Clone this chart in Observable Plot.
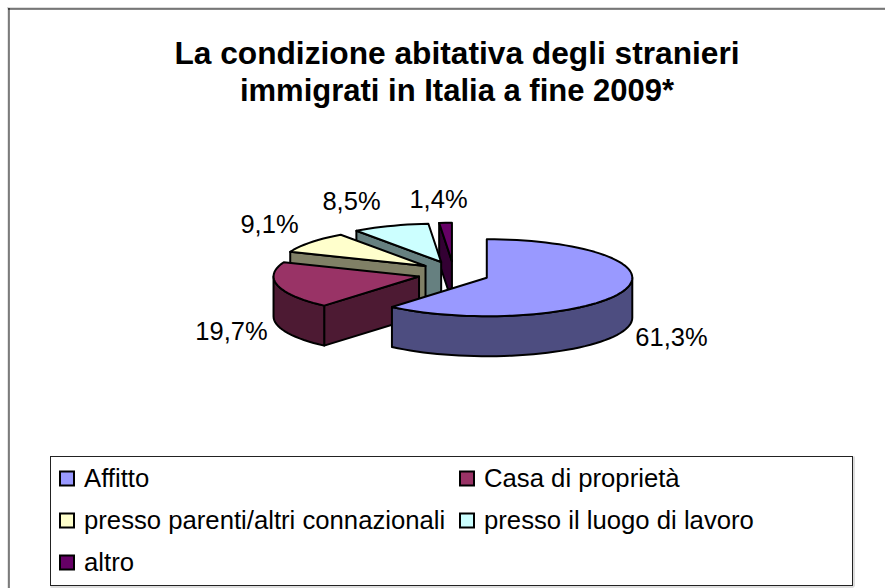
<!DOCTYPE html>
<html>
<head>
<meta charset="utf-8">
<script src="https://cdn.jsdelivr.net/npm/d3@7"></script>
<script src="https://cdn.jsdelivr.net/npm/@observablehq/plot@0.6"></script>
<style>
  html, body { margin: 0; padding: 0; background: #fff; }
  svg { display: block; }
</style>
</head>
<body>
<script>
// Chart data
const titleLines = ["La condizione abitativa degli stranieri", "immigrati in Italia a fine 2009*"];
const categories = ["Affitto", "Casa di proprietà", "presso parenti/altri connazionali", "presso il luogo di lavoro", "altro"];
const shares = [61.3, 19.7, 9.1, 8.5, 1.4];
const topColours = ["#9999ff", "#993366", "#ffffcc", "#ccffff", "#660066"];
const sideColours = ["#4d4d80", "#4d1a33", "#808066", "#668080", "#330033"];

// Layout of the tilted, exploded pie
const pie = {cx: 453, cy: 273, rx: 145.5, ry: 38.5, depth: 40, explodeX: 35.5, explodeY: 12.2};
const labelSpots = [[671, 337], [231, 331], [269, 224], [351, 201], [438, 199]];
const legendSpots = [[60, 478], [460, 478], [60, 520], [460, 520], [60, 562]];
const titleSizes = [31.7, 31];
const rad = (deg) => deg * Math.PI / 180;

const total = d3.sum(shares);
let running = 0;
const slices = shares.map((share, i) => {
  const start = running / total * 360;
  running += share;
  const end = running / total * 360;
  const mid = rad((start + end) / 2);
  return {
    i, start, end,
    ox: pie.cx + pie.explodeX * Math.sin(mid),
    oy: pie.cy - pie.explodeY * Math.cos(mid)
  };
});

const rimPoint = (s, deg, drop = 0) => ({
  x: s.ox + pie.rx * Math.sin(rad(deg)),
  y: s.oy - pie.ry * Math.cos(rad(deg)) + drop
});
const arc = (a, b) => {
  const n = Math.max(2, Math.ceil((b - a) / 3));
  return d3.range(n + 1).map((k) => a + (b - a) * k / n);
};

const outline = {x: "x", y: "y", stroke: "#000", strokeWidth: 2, strokeLinejoin: "round", curve: "linear-closed"};
const polygon = (points, fill) => Plot.line(points, {...outline, fill});

// Walls first, then the top face; slices are stacked back to front.
const sliceMarks = (s) => {
  const marks = [];
  const apex = {x: s.ox, y: s.oy};
  const edge = rimPoint(s, s.start);
  if (s.start > 180) {
    marks.push(polygon([apex, edge, {x: edge.x, y: edge.y + pie.depth}, {x: apex.x, y: apex.y + pie.depth}], sideColours[s.i]));
  }
  const a = Math.max(s.start, 90), b = Math.min(s.end, 270);
  if (a < b) {
    const angles = arc(a, b);
    marks.push(polygon([
      ...angles.map((d) => rimPoint(s, d)),
      ...angles.slice().reverse().map((d) => rimPoint(s, d, pie.depth))
    ], sideColours[s.i]));
  }
  marks.push(polygon([apex, ...arc(s.start, s.end).map((d) => rimPoint(s, d))], topColours[s.i]));
  return marks;
};

const valueLabels = shares.map((v, i) => ({
  text: v.toFixed(1).replace(".", ",") + "%",
  x: labelSpots[i][0],
  y: labelSpots[i][1]
}));
const legendRows = categories.map((name, i) => ({
  name, colour: topColours[i], x: legendSpots[i][0], y: legendSpots[i][1]
}));

const font = "Liberation Sans, Arial, sans-serif";
const legendBox = {left: 50.5, right: 852.5, top: 456.5, bottom: 585.5};

const chart = Plot.plot({
  width: 885,
  height: 588,
  margin: 0,
  x: {domain: [0, 885], range: [0, 885], axis: null},
  y: {domain: [0, 588], range: [0, 588], axis: null},
  style: {background: "#fff", fontFamily: font},
  marks: [
    // Chart area border: only its top and left edges fall inside the page
    Plot.ruleY([7.5], {x1: 7, x2: 885, stroke: "#bbb", strokeWidth: 1}),
    Plot.ruleX([7.5], {y1: 7, y2: 588, stroke: "#ccc", strokeWidth: 1}),
    Plot.ruleY([8.5], {x1: 8, x2: 885, stroke: "#111", strokeWidth: 1}),
    Plot.ruleX([8.5], {y1: 8, y2: 588, stroke: "#111", strokeWidth: 1}),

    // Title
    Plot.text(titleLines, {
      x: 456.5, y: (d, i) => 53 + i * 38, text: (d) => d,
      fontSize: (d, i) => titleSizes[i], fontWeight: "bold", fill: "#000", textAnchor: "middle", lineAnchor: "middle", fontFamily: font
    }),

    // Exploded pie, back to front
    ...[4, 3, 2, 1, 0].flatMap((i) => sliceMarks(slices[i])),

    // Share labels
    Plot.text(valueLabels, {
      x: "x", y: "y", text: "text",
      fontSize: 25.5, fill: "#000", textAnchor: "middle", lineAnchor: "middle", fontFamily: font
    }),

    // Legend box with its soft right and bottom edge, swatches and entries
    Plot.ruleX([legendBox.right + 1], {y1: legendBox.top, y2: legendBox.bottom + 1, stroke: "#bbb", strokeWidth: 1}),
    Plot.ruleY([legendBox.bottom + 1], {x1: legendBox.left, x2: legendBox.right + 1, stroke: "#bbb", strokeWidth: 1}),
    Plot.rect([legendBox], {x1: "left", x2: "right", y1: "top", y2: "bottom", fill: "#fff", stroke: "#222", strokeWidth: 1}),
    Plot.rect(legendRows, {
      x1: "x", x2: (d) => d.x + 14, y1: (d) => d.y - 6.5, y2: (d) => d.y + 7.5,
      fill: (d) => d.colour, stroke: "#000", strokeWidth: 2
    }),
    Plot.text(legendRows, {
      x: (d) => d.x + 23.5, y: "y", text: "name",
      fontSize: 25.7, fill: "#000", textAnchor: "start", lineAnchor: "middle", fontFamily: font
    })
  ]
});
document.body.appendChild(chart);
</script>
</body>
</html>
